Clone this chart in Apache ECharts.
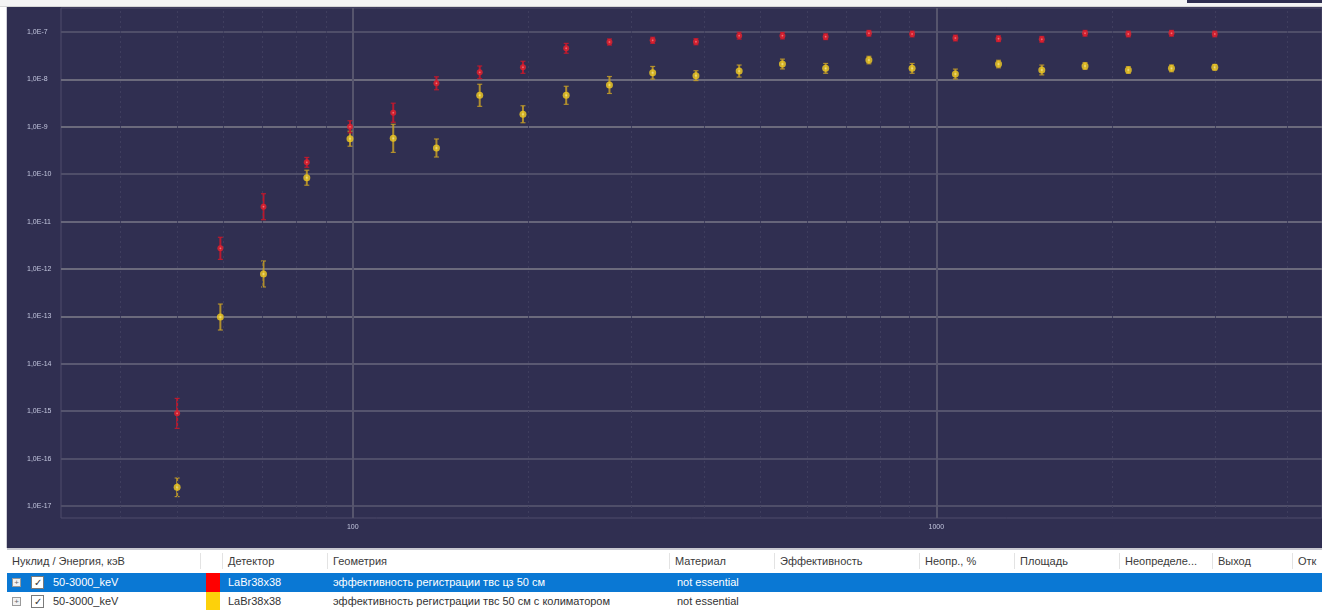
<!DOCTYPE html>
<html>
<head>
<meta charset="utf-8">
<script src="https://cdn.jsdelivr.net/npm/echarts@6/dist/echarts.min.js"></script>
<style>
  html, body { margin: 0; padding: 0; background: #ffffff; width: 1322px; height: 610px; overflow: hidden; font-family: "Liberation Sans", Arial, sans-serif; }
  #topbar { position: absolute; left: 0; top: 0; width: 1322px; height: 7px; background: #f4f4f4; border-bottom: 1px solid #d6d6d6; box-sizing: border-box; }
  #topdark { position: absolute; left: 1187px; top: 0; width: 135px; height: 3px; background: #302f51; }
  #leftbar { position: absolute; left: 0; top: 7px; width: 6px; height: 541px; background: #ffffff; border-right: 1px solid #cfcfd6; }
  #chart { position: absolute; left: 7px; top: 7px; width: 1315px; height: 541px; }
  #table { position: absolute; left: 7px; top: 548px; width: 1315px; height: 62px; background: #ffffff; border-top: 2px solid #c8c8d0; box-sizing: border-box; }
  .cell { position: absolute; font-size: 11px; line-height: 18px; white-space: nowrap; color: #333; }
  .hdr { position: absolute; top: 0; height: 22px; width: 1315px; }
  .hdr .cell { top: 2px; color: #3a3a3a; }
  .sep { position: absolute; top: 3px; width: 1px; height: 16px; background: #e3e3e3; }
  .row { position: absolute; left: 0; width: 1315px; height: 19px; }
  .row .cell { top: 0; }
  .sel { background: #0a78d4; }
  .sel .cell { color: #ffffff; }
  .swatch { position: absolute; top: 0; width: 14px; height: 19px; }
  .expand { position: absolute; top: 5px; width: 7px; height: 7px; border: 1px solid #9a9a9a; background: #f2f2f2; font-size: 8px; line-height: 7px; text-align: center; color: #666; }
  .check { position: absolute; top: 3px; width: 11px; height: 11px; border: 1px solid #7a7a7a; background: #ffffff; font-size: 10px; line-height: 11px; text-align: center; color: #333; }
</style>
</head>
<body>
<div id="topbar"></div>
<div id="topdark"></div>
<div id="leftbar"></div>
<div id="chart"></div>
<div id="table"></div>
<script>
// Photon energies, keV
const energies = [50, 59.3, 70.3, 83.4, 98.9, 117.3, 139.1, 165, 195.7, 232.1, 275.3, 326.5, 387.3,
                  459.3, 544.8, 646.1, 766.3, 908.8, 1078, 1278, 1516, 1798, 2133, 2529, 3000];

// Registration efficiency, geometry "твс цз 50 см"
const effOpen = [9.0e-16, 2.73e-12, 2.06e-11, 1.78e-10, 1.0e-9, 1.98e-9, 8.28e-9, 1.41e-8, 1.80e-8,
                 4.53e-8, 6.15e-8, 6.68e-8, 6.24e-8, 8.36e-8, 8.36e-8, 7.96e-8, 9.40e-8, 9.08e-8,
                 7.46e-8, 7.22e-8, 7.01e-8, 9.40e-8, 9.08e-8, 9.40e-8, 9.08e-8];
// Uncertainty as a multiplicative factor (bar spans eff / f .. eff * f)
const errOpen = [2.07, 1.71, 1.88, 1.27, 1.34, 1.59, 1.37, 1.36, 1.34, 1.27, 1.16, 1.16, 1.16,
                 1.18, 1.17, 1.15, 1.15, 1.15, 1.15, 1.15, 1.15, 1.15, 1.15, 1.15, 1.15];

// Registration efficiency, geometry "твс 50 см с колиматором"
const effColl = [2.48e-17, 9.7e-14, 7.85e-13, 8.43e-11, 5.61e-10, 5.71e-10, 3.57e-10, 4.62e-9, 1.84e-9,
                 4.62e-9, 7.62e-9, 1.38e-8, 1.20e-8, 1.50e-8, 2.11e-8, 1.71e-8, 2.56e-8, 1.71e-8,
                 1.30e-8, 2.11e-8, 1.58e-8, 1.92e-8, 1.58e-8, 1.71e-8, 1.80e-8];
const errColl = [1.57, 1.88, 1.88, 1.44, 1.44, 1.98, 1.55, 1.71, 1.51, 1.55, 1.51, 1.36, 1.27,
                 1.34, 1.27, 1.27, 1.20, 1.27, 1.27, 1.20, 1.27, 1.18, 1.18, 1.18, 1.15];

// Axis ticks
const yTickValues = [1e-17, 1e-16, 1e-15, 1e-14, 1e-13, 1e-12, 1e-11, 1e-10, 1e-9, 1e-8, 1e-7];
const yTickLabels = ['1,0E-17', '1,0E-16', '1,0E-15', '1,0E-14', '1,0E-13', '1,0E-12',
                     '1,0E-11', '1,0E-10', '1,0E-9', '1,0E-8', '1,0E-7'];
const xTickValues = [100, 1000];
const xTickLabels = ['100', '1000'];
const xMinorGrid = [40, 50, 60, 70, 80, 90, 200, 300, 400, 500, 600, 700, 800, 900, 2000, 3000, 4000];

// Table rows under the plot
const tableColumns = [
  { title: 'Нуклид / Энергия, кэВ', x: 5 },
  { title: '', x: 199 },
  { title: 'Детектор', x: 221 },
  { title: 'Геометрия', x: 326 },
  { title: 'Материал', x: 668 },
  { title: 'Эффективность', x: 773 },
  { title: 'Неопр., %', x: 918 },
  { title: 'Площадь', x: 1013 },
  { title: 'Неопределе...', x: 1118 },
  { title: 'Выход', x: 1211 },
  { title: 'Отк', x: 1291 }
];
const tableRows = [
  { nuclide: '50-3000_keV', color: '#ff0000', detector: 'LaBr38x38',
    geometry: 'эффективность регистрации твс цз 50 см', material: 'not essential', selected: true },
  { nuclide: '50-3000_keV', color: '#fdd10a', detector: 'LaBr38x38',
    geometry: 'эффективность регистрации твс 50 см с колиматором', material: 'not essential', selected: false }
];

function lookupLabel(values, labels, v) {
  for (let i = 0; i < values.length; i++) {
    if (Math.abs(Math.log10(v / values[i])) < 0.01) return labels[i];
  }
  return '';
}

function pointData(eff) { return energies.map((e, i) => [e, eff[i]]); }
function barData(eff, err) { return energies.map((e, i) => [e, eff[i] / err[i], eff[i] * err[i]]); }

function errorBar(color) {
  return function (params, api) {
    const x = api.value(0);
    const lo = api.coord([x, api.value(1)]);
    const hi = api.coord([x, api.value(2)]);
    const cap = 2.5;
    return {
      type: 'group',
      children: [
        { type: 'line', shape: { x1: hi[0], y1: hi[1], x2: lo[0], y2: lo[1] }, style: { stroke: color, lineWidth: 2 } },
        { type: 'line', shape: { x1: hi[0] - cap, y1: hi[1], x2: hi[0] + cap, y2: hi[1] }, style: { stroke: color, lineWidth: 1.2 } },
        { type: 'line', shape: { x1: lo[0] - cap, y1: lo[1], x2: lo[0] + cap, y2: lo[1] }, style: { stroke: color, lineWidth: 1.2 } }
      ]
    };
  };
}

function glow(inner, outer) {
  return { type: 'radial', x: 0.5, y: 0.5, r: 0.5,
           colorStops: [{ offset: 0, color: inner }, { offset: 0.45, color: outer }, { offset: 1, color: outer }] };
}

const xMin = 31.62, xMax = 4580;
const labelStyle = { color: '#c3c6de', fontSize: 7, fontFamily: 'Liberation Sans' };

const chart = echarts.init(document.getElementById('chart'), null, { renderer: 'canvas' });
chart.setOption({
  backgroundColor: '#302f51',
  animation: false,
  grid: [
    // data area: decades 1E-17 .. 1E-7
    { left: 54, right: 0, top: 25, bottom: 42, show: false },
    // plot frame and vertical grid lines
    { left: 54, right: -2, top: 1, bottom: 30, show: true, borderColor: '#4e4d6c', borderWidth: 1, backgroundColor: 'transparent' }
  ],
  xAxis: [
    { type: 'log', gridIndex: 0, min: xMin, max: xMax, show: false },
    { type: 'log', gridIndex: 1, min: xMin, max: xMax,
      axisLine: { show: false }, axisTick: { show: false },
      axisLabel: Object.assign({ margin: 6, showMinLabel: false, showMaxLabel: false,
                                 formatter: v => lookupLabel(xTickValues, xTickLabels, v) }, labelStyle),
      splitLine: { show: true, showMinLine: false, showMaxLine: false, lineStyle: { color: '#56556d', width: 2 } } }
  ],
  yAxis: [
    { type: 'log', gridIndex: 0, min: 1e-17, max: 1e-7, interval: 1,
      axisLine: { show: false }, axisTick: { show: false },
      axisLabel: Object.assign({ align: 'left', margin: 34,
                                 formatter: v => lookupLabel(yTickValues, yTickLabels, v) }, labelStyle),
      splitLine: { show: true, lineStyle: { width: 2,
        color: ['#4f4e69', '#4f4e69', '#55546e', '#5a5972', '#6b6a7c', '#6b6a7c', '#66657a', '#4f4e69', '#6b6a7c', '#6b6a7c', '#4f4e69'] } } },
    { type: 'value', gridIndex: 1, min: 0, max: 1, show: false }
  ],
  series: [
    { type: 'line', xAxisIndex: 1, yAxisIndex: 1, data: [], symbol: 'none', silent: true,
      markLine: { silent: true, symbol: ['none', 'none'], label: { show: false }, animation: false,
        lineStyle: { type: [2, 3], color: '#3f3e5e', width: 1 },
        data: xMinorGrid.map(v => ({ xAxis: v })) } },
    { type: 'custom', xAxisIndex: 0, yAxisIndex: 0, renderItem: errorBar('rgba(196,158,40,0.85)'),
      data: barData(effColl, errColl), encode: { x: 0, y: [1, 2] }, silent: true, z: 3 },
    { type: 'custom', xAxisIndex: 0, yAxisIndex: 0, renderItem: errorBar('rgba(196,24,44,0.9)'),
      data: barData(effOpen, errOpen), encode: { x: 0, y: [1, 2] }, silent: true, z: 3 },
    { type: 'scatter', xAxisIndex: 0, yAxisIndex: 0, symbol: 'circle', symbolSize: 7, z: 5,
      itemStyle: { color: glow('#fff6b0', '#f2cc22') }, data: pointData(effColl) },
    { type: 'scatter', xAxisIndex: 0, yAxisIndex: 0, symbol: 'circle', symbolSize: 6, z: 5,
      itemStyle: { color: glow('#ff9c9c', '#e8202c') }, data: pointData(effOpen) }
  ]
});

// Series table
const table = document.getElementById('table');
const hdr = document.createElement('div');
hdr.className = 'hdr';
tableColumns.forEach((c, i) => {
  if (i > 0) {
    const s = document.createElement('div');
    s.className = 'sep';
    s.style.left = (c.x - 6) + 'px';
    hdr.appendChild(s);
  }
  if (c.title) {
    const t = document.createElement('div');
    t.className = 'cell';
    t.style.left = c.x + 'px';
    t.textContent = c.title;
    hdr.appendChild(t);
  }
});
table.appendChild(hdr);

tableRows.forEach((r, i) => {
  const row = document.createElement('div');
  row.className = 'row' + (r.selected ? ' sel' : '');
  row.style.top = (23 + i * 19) + 'px';
  const parts = [
    { cls: 'expand', x: 5, text: '+' },
    { cls: 'check', x: 24, text: '✓' },
    { cls: 'cell', x: 46, text: r.nuclide },
    { cls: 'cell', x: 221, text: r.detector },
    { cls: 'cell', x: 326, text: r.geometry },
    { cls: 'cell', x: 670, text: r.material }
  ];
  parts.forEach(p => {
    const d = document.createElement('div');
    d.className = p.cls;
    d.style.left = p.x + 'px';
    d.textContent = p.text;
    row.appendChild(d);
  });
  const sw = document.createElement('div');
  sw.className = 'swatch';
  sw.style.left = '199px';
  sw.style.background = r.color;
  row.appendChild(sw);
  table.appendChild(row);
});
</script>
</body>
</html>
